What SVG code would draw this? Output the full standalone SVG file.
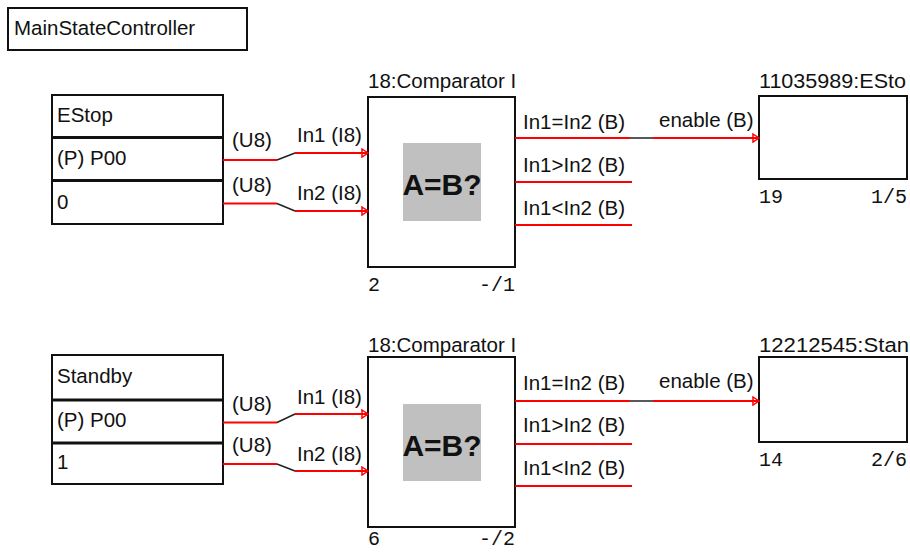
<svg xmlns="http://www.w3.org/2000/svg" width="910" height="552" viewBox="0 0 910 552">
<defs>
<style>
.box{fill:#fff;stroke:#111;stroke-width:2}
.div{stroke:#111;stroke-width:3}
.t{font-family:"Liberation Sans",Arial,sans-serif;font-size:20.5px;fill:#111}
.m{font-family:"Liberation Mono","Courier New",monospace;font-size:20px;fill:#111}
.big{font-family:"Liberation Sans",Arial,sans-serif;font-size:30px;font-weight:bold;fill:#111}
.r{fill:none;stroke:#f00;stroke-width:2}
.k{fill:none;stroke:#222;stroke-width:1.5}
.g{fill:#c0c0c0}
</style>
<marker id="ah" markerUnits="userSpaceOnUse" markerWidth="10" markerHeight="10" refX="8" refY="5" orient="auto" viewBox="0 0 10 10">
<path d="M2,1 L8,5 L2,9 Z M2,5 L8,5" fill="none" stroke="#f00" stroke-width="1.5"/>
</marker>
</defs>

<g id="title">
<rect class="box" x="8" y="8" width="239" height="42"/>
<text class="t" x="14" y="35">MainStateController</text>
</g>

<g id="estop">
<rect class="box" x="52" y="95" width="171" height="129"/>
<line class="div" x1="52" y1="137.5" x2="223" y2="137.5"/>
<line class="div" x1="52" y1="180.5" x2="223" y2="180.5"/>
<text class="t" x="57" y="122">EStop</text>
<text class="t" x="57" y="165">(P) P00</text>
<text class="t" x="57" y="209">0</text>
</g>

<g id="comp1">
<text class="t" x="368" y="88">18:Comparator I</text>
<rect class="box" x="368" y="97" width="147" height="170"/>
<rect class="g" x="403" y="143" width="78" height="78"/>
<text class="big" x="442" y="195" text-anchor="middle">A=B?</text>
<text class="m" x="368" y="291">2</text>
<text class="m" x="515" y="291" text-anchor="end">-/1</text>
</g>

<g id="estopTarget">
<text class="t" x="759" y="88" textLength="147" lengthAdjust="spacingAndGlyphs">11035989:ESto</text>
<rect class="box" x="759" y="96" width="148" height="83"/>
<text class="m" x="759" y="203">19</text>
<text class="m" x="907" y="203" text-anchor="end">1/5</text>
</g>

<g id="standby">
<rect class="box" x="52" y="355" width="171" height="129"/>
<line class="div" x1="52" y1="400" x2="223" y2="400"/>
<line class="div" x1="52" y1="443" x2="223" y2="443"/>
<text class="t" x="57" y="383">Standby</text>
<text class="t" x="57" y="427">(P) P00</text>
<text class="t" x="57" y="469">1</text>
</g>

<g id="comp2">
<text class="t" x="368" y="352">18:Comparator I</text>
<rect class="box" x="368" y="357" width="147" height="170"/>
<rect class="g" x="403" y="404" width="78" height="77"/>
<text class="big" x="442" y="456" text-anchor="middle">A=B?</text>
<text class="m" x="368" y="545">6</text>
<text class="m" x="515" y="545" text-anchor="end">-/2</text>
</g>

<g id="standbyTarget">
<text class="t" x="759" y="352" textLength="150" lengthAdjust="spacingAndGlyphs">12212545:Stan</text>
<rect class="box" x="759" y="357" width="148" height="85"/>
<text class="m" x="759" y="466">14</text>
<text class="m" x="907" y="466" text-anchor="end">2/6</text>
</g>

<g id="connectors">
<path class="r" d="M223,160 H277"/>
<path class="k" d="M277,160 L295,153"/>
<path class="r" d="M295,153 H368" marker-end="url(#ah)"/>
<path class="r" d="M223,203.5 H277"/>
<path class="k" d="M277,203.5 L295,211"/>
<path class="r" d="M295,211 H368" marker-end="url(#ah)"/>
<path class="r" d="M515,138 H630"/>
<path class="k" d="M630,138 H653"/>
<path class="r" d="M653,138 H759" marker-end="url(#ah)"/>
<path class="r" d="M515,182 H632"/>
<path class="r" d="M515,225 H632"/>

<path class="r" d="M223,422.5 H277"/>
<path class="k" d="M277,422.5 L295,414"/>
<path class="r" d="M295,414 H368" marker-end="url(#ah)"/>
<path class="r" d="M223,464 H277"/>
<path class="k" d="M277,464 L295,471"/>
<path class="r" d="M295,471 H368" marker-end="url(#ah)"/>
<path class="r" d="M515,401 H630"/>
<path class="k" d="M630,401 H653"/>
<path class="r" d="M653,401 H759" marker-end="url(#ah)"/>
<path class="r" d="M515,444 H632"/>
<path class="r" d="M515,486 H632"/>

<text class="t" x="232" y="147">(U8)</text>
<text class="t" x="297" y="142">In1 (I8)</text>
<text class="t" x="232" y="192">(U8)</text>
<text class="t" x="297" y="200">In2 (I8)</text>
<text class="t" x="523" y="129">In1=In2 (B)</text>
<text class="t" x="523" y="172">In1&gt;In2 (B)</text>
<text class="t" x="523" y="215">In1&lt;In2 (B)</text>
<text class="t" x="659" y="127">enable (B)</text>

<text class="t" x="232" y="411">(U8)</text>
<text class="t" x="297" y="404">In1 (I8)</text>
<text class="t" x="232" y="452">(U8)</text>
<text class="t" x="297" y="461">In2 (I8)</text>
<text class="t" x="523" y="390">In1=In2 (B)</text>
<text class="t" x="523" y="432">In1&gt;In2 (B)</text>
<text class="t" x="523" y="475">In1&lt;In2 (B)</text>
<text class="t" x="659" y="388">enable (B)</text>
</g>
</svg>
